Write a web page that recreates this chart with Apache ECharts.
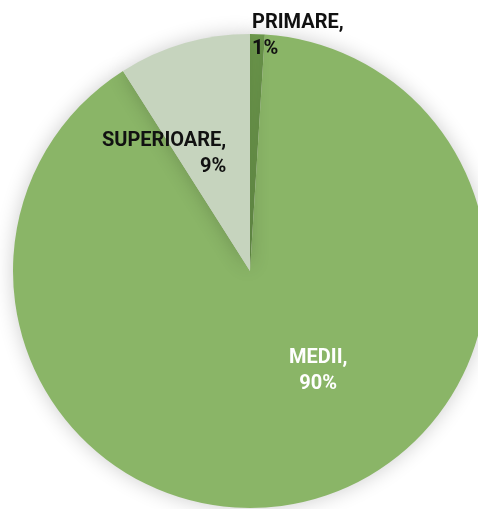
<!DOCTYPE html>
<html>
<head>
<meta charset="utf-8">
<script src="https://cdn.jsdelivr.net/npm/echarts@6/dist/echarts.min.js"></script>
<style>
	html, body { margin: 0; padding: 0; background: #fff; }
	#pie { width: 478px; height: 509px; }
</style>
</head>
<body>
<div id="pie"></div>
<script>
var categories = ['PRIMARE', 'MEDII', 'SUPERIOARE'];
var values = [1, 90, 9];
var colors = ['#72a050', '#8ab567', '#c6d4be'];
var labelColors = ['#111', '#fff', '#111'];
var lineAlign = ['l', 'c', 'r'];
// label offsets from the default inside position
var offsets = [[44, -114], [38, -18], [-52, 0]];

var chart = echarts.init(document.getElementById('pie'));
var data = categories.map(function(name, i) {
	return {
		name: name,
		value: values[i],
		itemStyle: { color: colors[i] },
		label: {
			color: labelColors[i],
			offset: offsets[i],
			formatter: '{' + lineAlign[i] + '|{b},}\n{' + lineAlign[i] + '|{c}%}'
		}
	};
});

function txt(al) {
	return {
		align: al,
		fontFamily: 'Roboto',
		fontWeight: 'bold',
		fontSize: 20,
		lineHeight: 26
	};
}

var option = {
	backgroundColor: '#fff',
	animation: false,
	series: [{
		type: 'pie',
		center: [250, 271],
		radius: [0, 237],
		startAngle: 90,
		clockwise: true,
		avoidLabelOverlap: false,
		itemStyle: {
			shadowBlur: 20,
			shadowColor: 'rgba(0,0,0,0.2)'
		},
		emphasis: { disabled: true },
		label: {
			show: true,
			position: 'inside',
			fontFamily: 'Roboto',
			fontWeight: 'bold',
			fontSize: 20,
			lineHeight: 26,
			rich: {
				l: txt('left'),
				c: txt('center'),
				r: txt('right')
			}
		},
		labelLine: { show: false },
		data: data
	}]
};
chart.setOption(option);
</script>
</body>
</html>
